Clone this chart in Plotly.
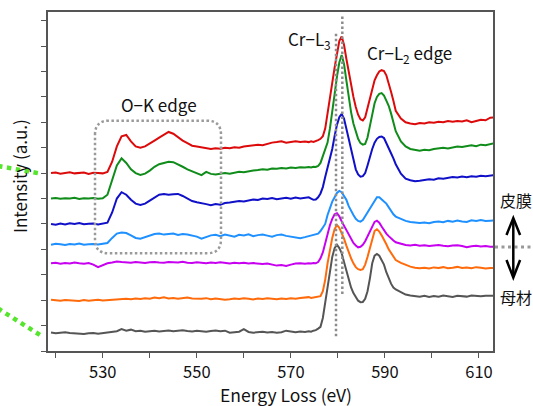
import plotly.graph_objects as go

# ---------------- data ----------------
energy = [519, 520, 521, 522, 523, 524, 525, 526, 527, 528, 529, 530, 531, 532, 533, 534, 535, 536, 537, 538,
          539, 540, 541, 542, 543, 544, 545, 546, 547, 548, 549, 550, 551, 552, 553, 554, 555, 556, 557, 558,
          559, 560, 561, 562, 563, 564, 565, 566, 567, 568, 569, 570, 571, 572, 573,
          573.8, 574.3, 574.8, 575.3, 575.8, 576.3, 576.8, 577.3, 577.8, 578.3, 578.8, 579.3, 579.8, 580.3,
          580.8, 581.3, 581.8, 582.3, 582.8, 583.3, 583.8, 584.3, 584.8, 585.3, 585.8, 586.3, 586.8, 587.3,
          587.8, 588.3, 588.8, 589.3, 589.8, 590.3, 590.8, 591.3, 591.8, 592.3,
          593.4, 594.4, 595.4, 596.4, 597.4, 598.4, 599.4, 600.4, 601.4, 602.4, 603.4, 604.4, 605.4, 606.4,
          607.4, 608.4, 609.4, 610.4, 611.4, 612.4, 613.4]

red = [7.00, 7.02, 6.98, 7.01, 7.03, 6.99, 7.00, 7.02, 6.97, 7.01, 7.00, 6.99,
       7.05, 7.45, 8.05, 8.45, 8.50, 8.25, 8.05, 8.00, 8.05, 8.15, 8.28, 8.40, 8.50, 8.62, 8.55, 8.40, 8.28,
       8.18, 8.08, 8.05, 8.02, 8.00, 7.95, 7.98, 7.96, 8.00, 7.98, 8.02, 8.00, 8.05, 8.08, 8.10, 8.12, 8.10,
       8.16, 8.20, 8.22, 8.25, 8.20, 8.23, 8.25, 8.22, 8.24,
       8.22, 8.25, 8.23, 8.25, 8.30, 8.35, 8.45, 8.75, 9.30, 9.90, 10.55, 11.15, 11.75, 12.20, 12.38, 12.05,
       11.50, 10.95, 10.45, 10.00, 9.60, 9.30, 9.12, 9.07, 9.20, 9.55, 10.00, 10.35, 10.65, 10.85, 11.00,
       11.05, 11.02, 10.85, 10.55, 10.20, 9.85, 9.45,
       9.15, 9.00, 8.95, 8.92, 8.97, 8.95, 9.00, 8.98, 9.02, 9.00, 9.05, 9.02, 9.05, 9.03, 9.08, 9.00, 9.05,
       9.10, 9.08, 9.18, 9.20]

green = [6.00, 6.02, 5.99, 6.01, 6.00, 6.03, 5.98, 6.01, 6.00, 6.02, 5.99,
         6.01, 6.15, 6.70, 7.30, 7.58, 7.40, 7.15, 7.00, 6.93, 6.98, 7.10, 7.25, 7.35, 7.40, 7.45, 7.43, 7.35,
         7.25, 7.15, 7.08, 7.00, 6.92, 7.05, 6.97, 6.95, 6.98, 7.00, 6.98, 7.02, 7.05, 7.03, 7.08, 7.10, 7.12,
         7.15, 7.13, 7.18, 7.17, 7.20, 7.18, 7.22, 7.20, 7.23, 7.22,
         7.24, 7.22, 7.25, 7.24, 7.28, 7.40, 7.65, 7.95, 8.20, 8.75, 9.55, 10.10, 10.80, 11.35, 11.65, 11.30,
         10.65, 10.00, 9.40, 8.95, 8.60, 8.35, 8.18, 8.12, 8.15, 8.40, 8.85, 9.35, 9.75, 10.00, 10.12, 10.15,
         10.05, 9.85, 9.65, 9.35, 9.00, 8.65,
         8.25, 8.05, 7.95, 7.90, 7.88, 7.92, 7.90, 7.95, 7.98, 8.00, 7.97, 8.02, 8.05, 8.03, 8.08, 8.10, 8.06,
         8.12, 8.10, 8.15, 8.18]

blue = [5.00, 4.97, 5.02, 4.98, 5.03, 5.00, 5.04, 4.99, 5.01, 5.02, 4.98, 5.01,
        5.05, 5.45, 6.00, 6.25, 6.15, 5.95, 5.80, 5.75, 5.80, 5.92, 6.05, 6.15, 6.18, 6.15, 6.17, 6.18, 6.10,
        6.00, 5.90, 5.85, 5.80, 5.78, 5.74, 5.78, 5.76, 5.82, 5.84, 5.86, 5.90, 5.88, 5.93, 5.96, 5.94, 6.00,
        5.98, 6.02, 5.97, 6.01, 6.03, 5.99, 6.04, 6.00, 6.02,
        6.05, 6.00, 5.95, 5.96, 6.05, 6.20, 6.45, 6.85, 7.20, 7.60, 7.95, 8.45, 8.90, 9.20, 9.33, 9.15, 8.80,
        8.35, 7.95, 7.50, 7.15, 6.95, 6.86, 6.88, 7.00, 7.30, 7.65, 7.95, 8.20, 8.35, 8.42, 8.44, 8.38, 8.20,
        7.98, 7.78, 7.58, 7.35,
        6.98, 6.78, 6.72, 6.68, 6.70, 6.73, 6.76, 6.74, 6.80, 6.78, 6.82, 6.85, 6.83, 6.87, 6.84, 6.88, 6.86,
        6.90, 6.88, 6.92, 6.93]

lightblue = [4.18, 4.22, 4.20, 4.17, 4.21, 4.19, 4.23, 4.18, 4.20, 4.21, 4.19, 4.22,
             4.25, 4.45, 4.62, 4.66, 4.64, 4.55, 4.45, 4.42, 4.48, 4.55, 4.60, 4.62, 4.58, 4.60, 4.62, 4.57,
             4.60, 4.58, 4.55, 4.50, 4.42, 4.48, 4.55, 4.57, 4.52, 4.58, 4.55, 4.50, 4.57, 4.55, 4.59, 4.52,
             4.56, 4.58, 4.54, 4.50, 4.56, 4.58, 4.53, 4.50, 4.47, 4.44, 4.48,
             4.52, 4.55, 4.57, 4.58, 4.62, 4.72, 4.85, 5.00, 5.35, 5.65, 5.88, 6.05, 6.22, 6.30, 6.25, 6.10,
             5.95, 5.70, 5.50, 5.35, 5.20, 5.12, 5.09, 5.15, 5.30, 5.45, 5.62, 5.75, 5.95, 6.05, 6.05, 5.95,
             5.88, 5.80, 5.65, 5.50, 5.38, 5.29,
             5.20, 5.12, 5.08, 5.05, 5.04, 5.06, 5.03, 5.08, 5.10, 5.07, 5.12, 5.09, 5.13, 5.10, 5.08, 5.14,
             5.12, 5.15, 5.12, 5.13, 5.14]

magenta = [3.45, 3.47, 3.43, 3.46, 3.44, 3.48, 3.45, 3.43, 3.46, 3.40,
           3.30, 3.38, 3.45, 3.48, 3.52, 3.50, 3.49, 3.47, 3.50, 3.48, 3.46, 3.49, 3.50, 3.48, 3.47, 3.50,
           3.49, 3.48, 3.51, 3.47, 3.46, 3.49, 3.47, 3.45, 3.48, 3.46, 3.49, 3.47, 3.44, 3.47, 3.45, 3.47,
           3.44, 3.46, 3.45, 3.42, 3.44, 3.41, 3.36, 3.38, 3.35, 3.40, 3.44, 3.45, 3.43,
           3.45, 3.44, 3.46, 3.45, 3.50, 3.65, 3.88, 4.25, 4.65, 4.95, 5.20, 5.38, 5.42, 5.30, 5.10, 4.92,
           4.75, 4.55, 4.40, 4.25, 4.15, 4.08, 4.10, 4.18, 4.32, 4.50, 4.72, 4.92, 5.08, 5.13, 5.05, 4.90,
           4.75, 4.62, 4.52, 4.42, 4.35, 4.28,
           4.22, 4.17, 4.15, 4.18, 4.14, 4.16, 4.13, 4.15, 4.17, 4.14, 4.12, 4.15, 4.16, 4.13, 4.08, 4.12,
           4.14, 4.11, 4.13, 4.10, 4.11]

orange = [2.02, 2.00, 1.98, 2.01, 2.00, 1.99, 1.97, 2.01, 1.98, 2.00, 2.02, 1.99,
          2.00, 2.02, 2.03, 2.05, 2.06, 2.04, 2.07, 2.05, 2.08, 2.06, 2.10, 2.08, 2.11, 2.07, 2.09, 2.06,
          2.08, 2.10, 2.07, 2.05, 2.06, 2.08, 2.04, 2.07, 2.05, 2.02, 2.04, 2.07, 2.05, 2.08, 2.06, 2.03,
          2.07, 2.05, 2.08, 2.05, 2.04, 2.07, 2.05, 2.08, 2.06, 2.09, 2.10,
          2.12, 2.09, 2.11, 2.10, 2.14, 2.16, 2.35, 2.80, 3.45, 3.98, 4.45, 4.80, 4.96, 4.85, 4.65, 4.42,
          4.15, 3.88, 3.65, 3.45, 3.30, 3.22, 3.19, 3.22, 3.40, 3.70, 4.05, 4.45, 4.72, 4.79, 4.70, 4.55,
          4.40, 4.20, 4.00, 3.85, 3.70, 3.58,
          3.47, 3.38, 3.32, 3.28, 3.26, 3.28, 3.25, 3.29, 3.27, 3.30, 3.26, 3.28, 3.31, 3.27, 3.29, 3.26,
          3.30, 3.28, 3.25, 3.27, 3.26]

gray = [0.73, 0.70, 0.72, 0.74, 0.71, 0.69, 0.68, 0.67, 0.70, 0.71, 0.68, 0.70,
        0.72, 0.74, 0.78, 0.86, 0.80, 0.84, 0.78, 0.80, 0.76, 0.78, 0.80, 0.77, 0.79, 0.81, 0.78, 0.80,
        0.82, 0.79, 0.77, 0.80, 0.78, 0.76, 0.79, 0.81, 0.78, 0.80, 0.72, 0.74, 0.76, 0.86, 0.75, 0.72,
        0.74, 0.76, 0.73, 0.75, 0.72, 0.74, 0.80, 0.76, 0.74, 0.77, 0.75,
        0.78, 0.76, 0.80, 0.82, 0.88, 0.95, 1.30, 1.88, 2.55, 3.19, 3.70, 4.05, 4.18, 4.05, 3.85, 3.50,
        3.15, 2.85, 2.50, 2.28, 2.10, 1.98, 1.92, 1.93, 2.05, 2.35, 2.85, 3.45, 3.75, 3.82, 3.75, 3.58,
        3.40, 3.10, 2.85, 2.65, 2.50, 2.42,
        2.32, 2.22, 2.18, 2.15, 2.14, 2.17, 2.13, 2.16, 2.14, 2.18, 2.15, 2.13, 2.17, 2.15, 2.14, 2.18,
        2.16, 2.15, 2.17, 2.16, 2.17]

x_tick_vals = [520, 530, 540, 550, 560, 570, 580, 590, 600, 610]
x_tick_text = ["", "530", "", "550", "", "570", "", "590", "", "610"]
y_tick_vals = [0, 1, 2, 3, 4, 5, 6, 7, 8, 9, 10, 11, 12, 13]

series = [
    ("gray", gray, "#555555"),
    ("orange", orange, "#ff6a0a"),
    ("magenta", magenta, "#c800f0"),
    ("lightblue", lightblue, "#1e90ff"),
    ("blue", blue, "#1010c8"),
    ("green", green, "#0f8c1a"),
    ("red", red, "#dc0a0a"),
]

# ---------------- layout geometry (pixels) ----------------
W, H = 533, 406
L, R, T, B = 48, 493, 12, 351
FONT = "Noto Sans CJK JP, Noto Sans, sans-serif"


def fx(p):
    return (p - L) / (R - L)


def fy(p):
    return (B - p) / (B - T)


fig = go.Figure()
for name, vals, col in series:
    fig.add_trace(go.Scatter(x=energy, y=vals, mode="lines", name=name,
                             line=dict(color=col, width=2), showlegend=False,
                             hoverinfo="skip"))

shapes = []
# vertical dotted guide lines (data coordinates)
shapes.append(dict(type="line", xref="x", yref="y", x0=580.94, x1=580.94, y0=13.16, y1=2.18,
                   line=dict(color="#8c8c8c", width=2.5, dash="2.5px,2.5px")))
shapes.append(dict(type="line", xref="x", yref="y", x0=579.6, x1=579.6, y0=12.48, y1=0.54,
                   line=dict(color="#8c8c8c", width=2.5, dash="2.5px,2.5px")))

# rounded dotted box around O-K edge
x0, x1, y0, y1, r = 95, 221, 120.7, 253.3, 14
path = (f"M {fx(x0)} {fy(y0 + r)} Q {fx(x0)} {fy(y0)} {fx(x0 + r)} {fy(y0)} "
        f"L {fx(x1 - r)} {fy(y0)} Q {fx(x1)} {fy(y0)} {fx(x1)} {fy(y0 + r)} "
        f"L {fx(x1)} {fy(y1 - r)} Q {fx(x1)} {fy(y1)} {fx(x1 - r)} {fy(y1)} "
        f"L {fx(x0 + r)} {fy(y1)} Q {fx(x0)} {fy(y1)} {fx(x0)} {fy(y1 - r)} Z")
shapes.append(dict(type="path", xref="paper", yref="paper", path=path,
                   line=dict(color="#9a9a9a", width=2.5, dash="2.5px,2.5px")))

# green dotted lines on the left
shapes.append(dict(type="line", xref="paper", yref="paper", x0=fx(-2), y0=fy(166), x1=fx(40), y1=fy(173.5),
                   line=dict(color="#55e52c", width=4.5, dash="4.5px,4.5px")))
shapes.append(dict(type="line", xref="paper", yref="paper", x0=fx(-2), y0=fy(308.5), x1=fx(40), y1=fy(335),
                   line=dict(color="#55e52c", width=4.5, dash="4.5px,4.5px")))

# grey dotted line on the right
shapes.append(dict(type="line", xref="paper", yref="paper", x0=fx(495), y0=fy(247), x1=fx(535), y1=fy(247),
                   line=dict(color="#9a9a9a", width=3, dash="3px,3.5px")))

# double arrow
ax = 513.3
shapes.append(dict(type="line", xref="paper", yref="paper", x0=fx(ax), y0=fy(219), x1=fx(ax), y1=fy(276.5),
                   line=dict(color="black", width=2.5)))
shapes.append(dict(type="path", xref="paper", yref="paper",
                   path=f"M {fx(ax - 6.8)} {fy(235)} L {fx(ax)} {fy(218)} L {fx(ax + 6.8)} {fy(235)}",
                   line=dict(color="black", width=2.5)))
shapes.append(dict(type="path", xref="paper", yref="paper",
                   path=f"M {fx(ax - 6.8)} {fy(260)} L {fx(ax)} {fy(277.5)} L {fx(ax + 6.8)} {fy(260)}",
                   line=dict(color="black", width=2.5)))

annotations = []


def txt(text, x, y, size, xanchor="center", yanchor="middle", angle=0):
    annotations.append(dict(text=text, xref="paper", yref="paper", x=fx(x), y=fy(y),
                            xanchor=xanchor, yanchor=yanchor, showarrow=False, textangle=angle,
                            font=dict(family=FONT, size=size, color="#111111")))


txt("O−K edge", 159, 104, 17)
txt("Cr−L<sub>3</sub>", 333, 39, 17, xanchor="right")
txt("Cr−L<sub>2</sub> edge", 365, 53, 17, xanchor="left")
txt("皮膜", 516, 200, 16)
txt("母材", 516, 297, 16)
txt("Energy Loss (eV)", 286, 394, 17.5)
txt("Intensity (a.u.)", 19, 176, 17, angle=-90)

fig.update_layout(
    width=W, height=H,
    margin=dict(l=L, r=W - R, t=T, b=H - B, pad=0),
    paper_bgcolor="white", plot_bgcolor="white",
    shapes=shapes, annotations=annotations,
    font=dict(family=FONT, size=16, color="#111111"),
)
fig.update_xaxes(range=[518.36, 612.98], tickmode="array", tickvals=x_tick_vals, ticktext=x_tick_text,
                 ticks="outside", ticklen=5, tickwidth=1.2, tickcolor="#555555",
                 showline=True, linecolor="#555555", linewidth=1.5, mirror=True,
                 showgrid=False, zeroline=False, automargin=False,
                 tickfont=dict(family=FONT, size=16.5, color="#111111"))
fig.update_yaxes(range=[0, 13.34], tickmode="array", tickvals=y_tick_vals,
                 ticktext=[""] * len(y_tick_vals),
                 ticks="outside", ticklen=5, tickwidth=1.2, tickcolor="#555555",
                 showline=True, linecolor="#555555", linewidth=1.5, mirror=True,
                 showgrid=False, zeroline=False, automargin=False)

# remove the browser's default 8px page margin so the figure sits at the window origin
fig.write_html("out.html", config={"displayModeBar": False},
               post_script="document.body.style.margin='0';document.body.style.overflow='hidden';")
